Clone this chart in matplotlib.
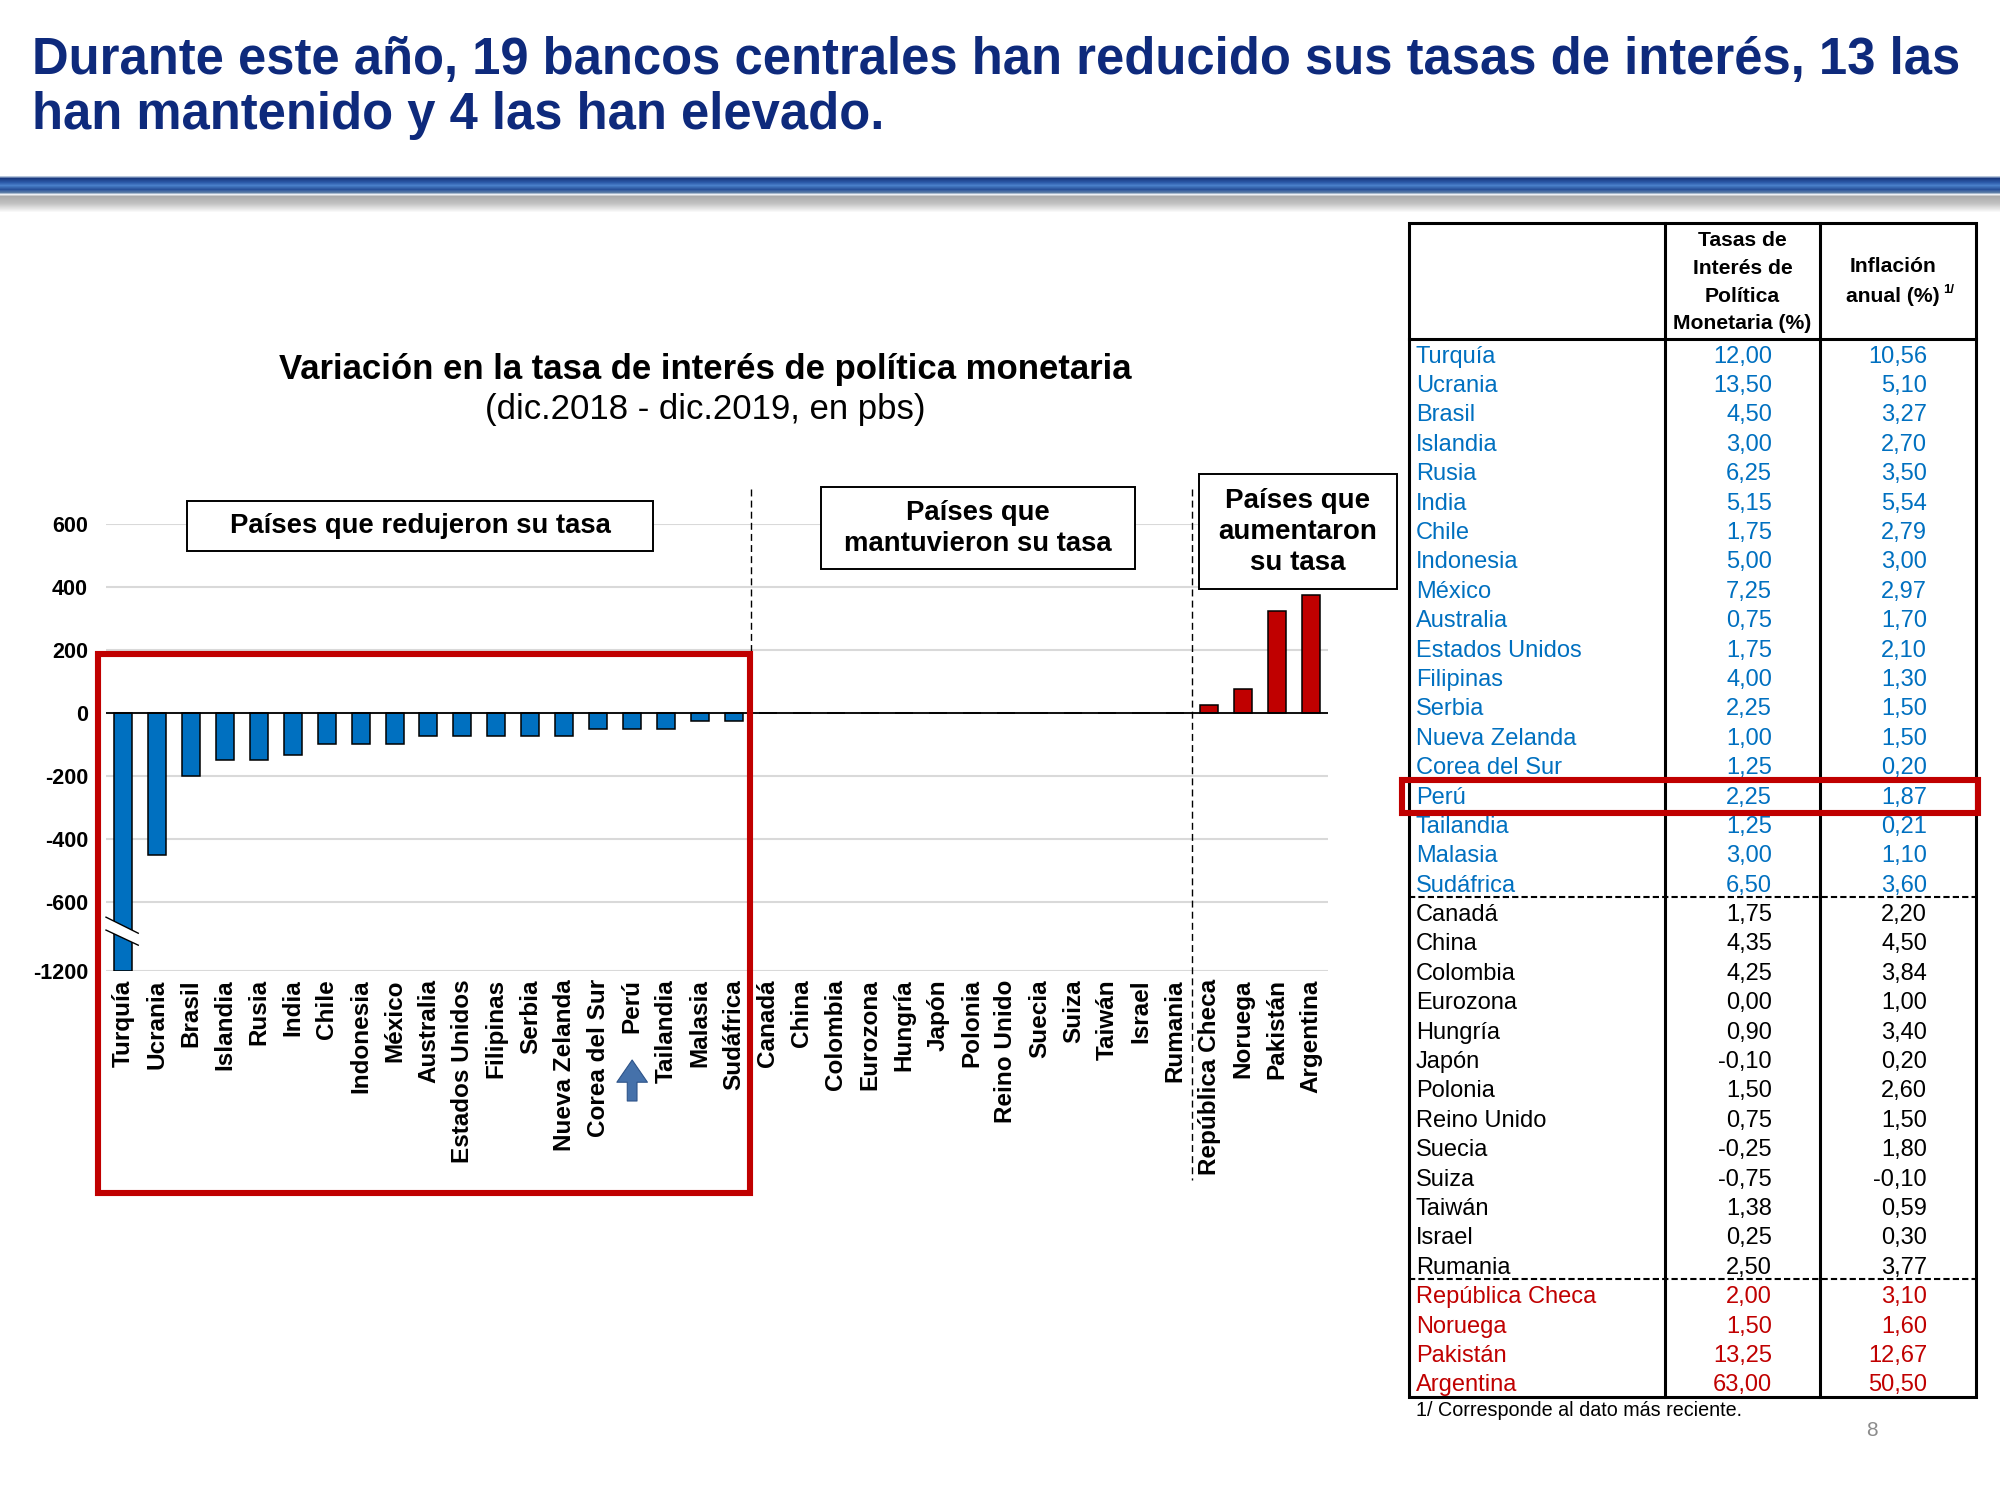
import matplotlib
matplotlib.use("Agg")
import matplotlib.pyplot as plt
import matplotlib.patches as mpatches
import matplotlib.transforms as mtransforms
from matplotlib.colors import to_rgb
import numpy as np

plt.rcParams["font.family"] = ["Liberation Sans", "DejaVu Sans"]

# ---------------- data ----------------
paises = [
    "Turquía", "Ucrania", "Brasil", "Islandia", "Rusia", "India", "Chile",
    "Indonesia", "México", "Australia", "Estados Unidos", "Filipinas", "Serbia",
    "Nueva Zelanda", "Corea del Sur", "Perú", "Tailandia", "Malasia", "Sudáfrica",
    "Canadá", "China", "Colombia", "Eurozona", "Hungría", "Japón", "Polonia",
    "Reino Unido", "Suecia", "Suiza", "Taiwán", "Israel", "Rumania",
    "República Checa", "Noruega", "Pakistán", "Argentina",
]
# variación dic.2018 - dic.2019 (pbs)
variacion_pbs = [
    -1200, -450, -200, -150, -150, -135, -100, -100, -100, -75, -75, -75, -75,
    -75, -50, -50, -50, -25, -25,
    0, 0, 0, 0, 0, 0, 0, 0, 0, 0, 0, 0, 0,
    25, 75, 325, 375,
]
tasa_politica = [
    12.00, 13.50, 4.50, 3.00, 6.25, 5.15, 1.75, 5.00, 7.25, 0.75, 1.75, 4.00,
    2.25, 1.00, 1.25, 2.25, 1.25, 3.00, 6.50,
    1.75, 4.35, 4.25, 0.00, 0.90, -0.10, 1.50, 0.75, -0.25, -0.75, 1.38, 0.25,
    2.50,
    2.00, 1.50, 13.25, 63.00,
]
inflacion_anual = [
    10.56, 5.10, 3.27, 2.70, 3.50, 5.54, 2.79, 3.00, 2.97, 1.70, 2.10, 1.30,
    1.50, 1.50, 0.20, 1.87, 0.21, 1.10, 3.60,
    2.20, 4.50, 3.84, 1.00, 3.40, 0.20, 2.60, 1.50, 1.80, -0.10, 0.59, 0.30,
    3.77,
    3.10, 1.60, 12.67, 50.50,
]
n_redujeron, n_mantuvieron, n_aumentaron = 19, 13, 4
y_ticks = [600, 400, 200, 0, -200, -400, -600, -1200]
pais_destacado = "Perú"

C_BLUE = "#0070C0"
C_RED = "#C00000"
C_NAVY = "#0E2A7C"
C_GRID = "#D9D9D9"

grupo_color = ([C_BLUE] * n_redujeron + ["black"] * n_mantuvieron
               + [C_RED] * n_aumentaron)

W, H = 2000, 1500


def fx(px):
    return px / W


def fy(py):
    return 1 - py / H


# broken axis: linear down to -700, compressed below
BRK, K = -700.0, 0.24


def fwd(v):
    v = np.asarray(v, dtype=float)
    return np.where(v >= BRK, v, BRK + (v - BRK) * K)


def inv(u):
    u = np.asarray(u, dtype=float)
    return np.where(u >= BRK, u, BRK + (u - BRK) / K)


fig = plt.figure(figsize=(20, 15), dpi=100)

# ---------------- header ----------------
fig.text(fx(32), fy(61), "Durante este año, 19 bancos centrales han reducido sus tasas de interés, 13 las",
         fontsize=36.5, fontweight="bold", color=C_NAVY, ha="left", va="center")
fig.text(fx(32), fy(115), "han mantenido y 4 las han elevado.",
         fontsize=36.5, fontweight="bold", color=C_NAVY, ha="left", va="center")

# blue separator bar with shadow
bar_ax = fig.add_axes([0, fy(213), 1, (213 - 176) / H])
anchors = [(0, "#B8C8DD"), (2, "#1A3A80"), (6, "#2C5BAA"), (9, "#4A80CA"),
           (13, "#28519A"), (16, "#5C7DA6"), (18, "#EEF1F5"), (20, "#ABABAB"),
           (27, "#C2C2C2"), (36, "#FFFFFF")]
rows = np.arange(37)
grad = np.zeros((37, 1, 3))
for c in range(3):
    grad[:, 0, c] = np.interp(rows, [a[0] for a in anchors],
                              [to_rgb(a[1])[c] for a in anchors])
bar_ax.imshow(grad, aspect="auto", interpolation="bilinear")
bar_ax.axis("off")

# ---------------- chart ----------------
fig.text(fx(705), fy(369), "Variación en la tasa de interés de política monetaria",
         fontsize=25, fontweight="bold", ha="center", va="center")
fig.text(fx(705), fy(409), "(dic.2018 - dic.2019, en pbs)",
         fontsize=25, ha="center", va="center")

ax = fig.add_axes([fx(106), fy(971), (1328 - 106) / W, (971 - 524) / H])
ax.set_yscale("function", functions=(fwd, inv))
x = np.arange(len(paises))
ax.bar(x, variacion_pbs, width=0.53, color=grupo_color[:len(paises)],
       edgecolor="black", linewidth=1.1, zorder=3)
ax.set_ylim(-1200, 600)
ax.set_xlim(-0.5, len(paises) - 0.5)
ax.set_yticks(y_ticks)
ax.set_yticklabels([str(t) for t in y_ticks], fontsize=15.5, fontweight="bold")
ax.yaxis.set_minor_locator(matplotlib.ticker.NullLocator())
ax.set_xticks(x)
ax.set_xticklabels(paises, rotation=90, fontsize=17.5, fontweight="bold")
ax.tick_params(axis="both", length=0)
ax.tick_params(axis="y", pad=13)
ax.tick_params(axis="x", pad=6)
ax.yaxis.grid(True, color=C_GRID, linewidth=1.5)
ax.set_axisbelow(True)
ax.axhline(0, color="black", linewidth=1.3, zorder=4)
for s in ax.spines.values():
    s.set_visible(False)

# axis break marks on the first bar
xb = x[0]
brk_top = [(xb - 0.5, inv(-649)), (xb + 0.45, inv(-700))]
brk_bot = [(xb + 0.45, inv(-738)), (xb - 0.5, inv(-690))]
ax.add_patch(mpatches.Polygon(brk_top + brk_bot, closed=True, facecolor="white",
                              edgecolor="none", zorder=5, clip_on=False))
for seg in (brk_top, brk_bot):
    ax.plot([p[0] for p in seg], [float(p[1]) for p in seg], color="black",
            linewidth=1.0, zorder=6, clip_on=False)

# dashed group separators
bt = mtransforms.blended_transform_factory(ax.transData, fig.transFigure)
for xs in (n_redujeron - 0.5, n_redujeron + n_mantuvieron - 0.5):
    ax.plot([xs, xs], [fy(489), fy(1180)], transform=bt, color="black",
            linewidth=1.0, linestyle=(0, (5, 3)), clip_on=False, zorder=6)

# red highlight around reducers
ax.add_patch(mpatches.Rectangle((-0.74, fy(1193)), n_redujeron - 0.53 + 0.74,
                                fy(654) - fy(1193), transform=bt, fill=False,
                                edgecolor=C_RED, linewidth=4.4, clip_on=False,
                                zorder=7))

# arrow under Peru label
ip = paises.index(pais_destacado)
ax.annotate("", xy=(ip, fy(1060)), xytext=(ip, fy(1101)),
            xycoords=("data", "figure fraction"),
            textcoords=("data", "figure fraction"),
            arrowprops=dict(arrowstyle="simple,head_length=0.8,head_width=1.1,tail_width=0.35",
                            mutation_scale=20, fc="#4571AA", ec="#2E5489",
                            lw=0.8, shrinkA=0, shrinkB=0))


def label_box(x0, y0, x1, y1, lines, size, line_h):
    fig.add_artist(mpatches.Rectangle((fx(x0), fy(y1)), fx(x1) - fx(x0), fy(y0) - fy(y1),
                                      transform=fig.transFigure, facecolor="white",
                                      edgecolor="black", linewidth=1.4, zorder=8))
    cy = (y0 + y1) / 2
    n = len(lines)
    for k, ln in enumerate(lines):
        yy = cy + (k - (n - 1) / 2) * line_h
        fig.text(fx((x0 + x1) / 2), fy(yy), ln, fontsize=size, fontweight="bold",
                 ha="center", va="center", zorder=9)


label_box(187, 501, 653, 551, ["Países que redujeron su tasa"], 19.8, 0)
label_box(821, 487, 1135, 569, ["Países que", "mantuvieron su tasa"], 19.8, 31)
label_box(1199, 474, 1397, 589, ["Países que", "aumentaron", "su tasa"], 20, 31)

# ---------------- table ----------------
TL, TR, C1, C2 = 1409, 1976, 1665, 1820
TT, TH, TB = 223, 339, 1397
row_h = (TB - TH) / len(paises)


def hline(y, x0=TL, x1=TR, **kw):
    fig.add_artist(plt.Line2D([fx(x0), fx(x1)], [fy(y), fy(y)],
                              transform=fig.transFigure, **kw))


def vline(xp, y0=TT, y1=TB, **kw):
    fig.add_artist(plt.Line2D([fx(xp), fx(xp)], [fy(y0), fy(y1)],
                              transform=fig.transFigure, **kw))


fig.add_artist(mpatches.Rectangle((fx(TL), fy(TB)), fx(TR) - fx(TL), fy(TT) - fy(TB),
                                  transform=fig.transFigure, fill=False,
                                  edgecolor="black", linewidth=2.2))
hline(TH, color="black", linewidth=2.2)
vline(C1, color="black", linewidth=2.2)
vline(C2, color="black", linewidth=2.2)
for nsep in (n_redujeron, n_redujeron + n_mantuvieron):
    hline(TH + nsep * row_h, color="black", linewidth=1.5, linestyle=(0, (3, 1.5)))

for k, ln in enumerate(["Tasas de", "Interés de", "Política", "Monetaria (%)"]):
    fig.text(fx((C1 + C2) / 2), fy(241 + k * 27.5), ln, fontsize=15.2,
             fontweight="bold", ha="center", va="center")
fig.text(fx(1893), fy(267), "Inflación", fontsize=15.2, fontweight="bold",
         ha="center", va="center")
fig.text(fx(1893), fy(297), "anual (%)", fontsize=15.2, fontweight="bold",
         ha="center", va="center")
fig.text(fx(1943), fy(290), "1/", fontsize=9.5, fontweight="bold",
         ha="left", va="center")


def fmt(v):
    return f"{v:.2f}".replace(".", ",")


for i, (p, t, inf) in enumerate(zip(paises, tasa_politica, inflacion_anual)):
    yc = TH + (i + 0.5) * row_h + 3
    col = grupo_color[i]
    fig.text(fx(1416), fy(yc), p, fontsize=17, color=col, ha="left", va="center")
    fig.text(fx(1772), fy(yc), fmt(t), fontsize=17, color=col, ha="right", va="center")
    fig.text(fx(1927), fy(yc), fmt(inf), fontsize=17, color=col, ha="right", va="center")

# highlight Peru row
fig.add_artist(mpatches.Rectangle((fx(1402), fy(TH + (ip + 1) * row_h + 4)),
                                  fx(1978) - fx(1402), row_h / H + 4 / H,
                                  transform=fig.transFigure, fill=False,
                                  edgecolor=C_RED, linewidth=4.4, zorder=10))

fig.text(fx(1416), fy(1411), "1/ Corresponde al dato más reciente.", fontsize=14.2,
         ha="left", va="center")
fig.text(fx(1872), fy(1431), "8", fontsize=15, color="#8C8C8C", ha="center", va="center")

fig.savefig("out.png", dpi=100)
